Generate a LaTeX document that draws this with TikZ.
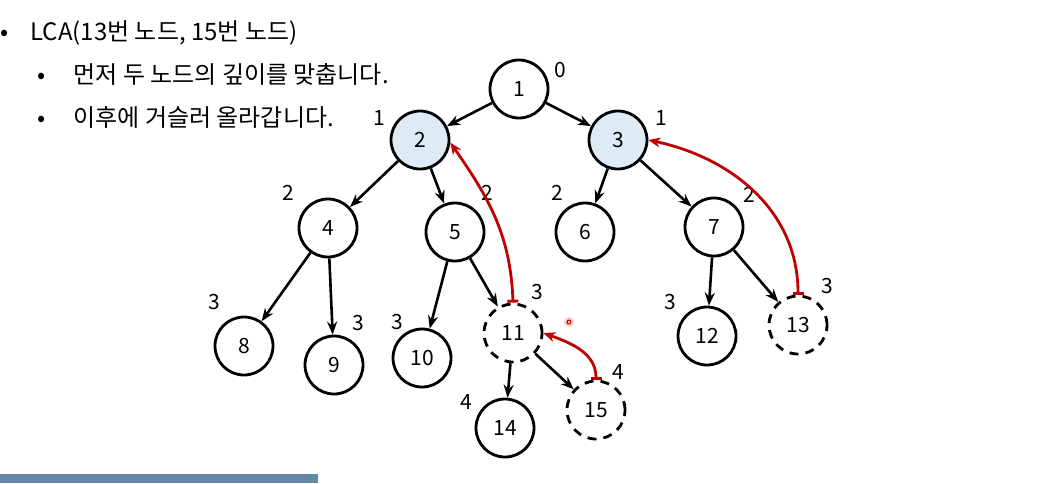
\documentclass[tikz,border=0pt]{standalone}
\usepackage{fontspec}
\setmainfont{Noto Sans CJK KR}
\usetikzlibrary{arrows.meta}
\definecolor{lcablue}{RGB}{222,235,247}
\definecolor{lcared}{RGB}{192,0,0}
\definecolor{barblue}{RGB}{100,135,165}

\begin{document}
\begin{tikzpicture}[x=1pt,y=-1pt,
      vtx/.style={circle,draw,line width=2.8pt,minimum size=58pt,inner sep=0pt,font=\fontsize{21}{24}\selectfont},
      hvtx/.style={vtx,fill=lcablue},
      dvtx/.style={vtx,dash pattern=on 9pt off 7pt},
      depth/.style={font=\fontsize{21}{24}\selectfont},
      trans/.style={-{Stealth[length=13pt,width=10pt]},line width=2.6pt},
      etrans/.style={{Bar[width=11pt]}-{Stealth[length=12pt,width=10pt]},line width=2.8pt,lcared},
      txt/.style={anchor=base west,font=\fontsize{24}{28}\selectfont},
      ]
      \useasboundingbox (0,0) rectangle (1062,483);

      % text on the left
      \node (b0) [txt,inner sep=0pt] at (0,40) {•};
      \node (t0) [txt] at (27,40) {LCA(13번 노드, 15번 노드)};
      \node (b1) [txt] at (34,83) {•};
      \node (t1) [txt] at (70,83) {먼저 두 노드의 깊이를 맞춥니다.};
      \node (b2) [txt] at (34,126) {•};
      \node (t2) [txt] at (70,126) {이후에 거슬러 올라갑니다.};

      % tree
      \node (1) [vtx] at (519,89) {1};
      \node (2) [hvtx] at (420,140) {2};
      \node (3) [hvtx] at (618,140) {3};
      \node (4) [vtx] at (328,228) {4};
      \node (5) [vtx] at (455,232) {5};
      \node (6) [vtx] at (585,232) {6};
      \node (7) [vtx] at (714,227) {7};
      \node (8) [vtx] at (244,346) {8};
      \node (9) [vtx] at (334,365) {9};
      \node (10) [vtx] at (422,358) {10};
      \node (11) [dvtx] at (513,333) {11};
      \node (12) [vtx] at (707,336) {12};
      \node (13) [dvtx] at (798,325) {13};
      \node (14) [vtx] at (505,428) {14};
      \node (15) [dvtx] at (596,410) {15};

      % depths
      \node (d1) [depth] at (560,70) {0};
      \node (d2) [depth] at (379,118) {1};
      \node (d3) [depth] at (661,118) {1};
      \node (d4) [depth] at (288,193) {2};
      \node (d5) [depth] at (487,193) {2};
      \node (d6) [depth] at (557,193) {2};
      \node (d7) [depth] at (749,195) {2};
      \node (d8) [depth] at (214,302) {3};
      \node (d9) [depth] at (358,323) {3};
      \node (d10) [depth] at (397,322) {3};
      \node (d11) [depth] at (537,292) {3};
      \node (d12) [depth] at (670,302) {3};
      \node (d13) [depth] at (827,286) {3};
      \node (d14) [depth] at (466,402) {4};
      \node (d15) [depth] at (618,372) {4};

      \draw [trans] (1) -- (2);
      \draw [trans] (1) -- (3);
      \draw [trans] (2) -- (4);
      \draw [trans] (2) -- (5);
      \draw [trans] (3) -- (6);
      \draw [trans] (3) -- (7);
      \draw [trans] (4) -- (8);
      \draw [trans] (4) -- (9);
      \draw [trans] (5) -- (10);
      \draw [trans] (5) -- (11);
      \draw [trans] (7) -- (12);
      \draw [trans] (7) -- (13);
      \draw [trans] (11) -- (14);
      \draw [trans] (11) -- (15);

      % climbing up
      \draw [etrans] (11.north) to[out=92,in=-55] (2.-5);
      \draw [etrans] (13.north) to[out=90,in=-12] (3.east);
      \draw [etrans] (15.north) to[out=90,in=-20] (11.east);

      % pointer dot and bottom bar
      \fill [red!20] (569,322) circle (5pt);
      \draw [lcared,line width=1pt] (569,322) circle (2pt);
      \fill [barblue] (0,474) rectangle (318,483);
  \end{tikzpicture}
\end{document}
